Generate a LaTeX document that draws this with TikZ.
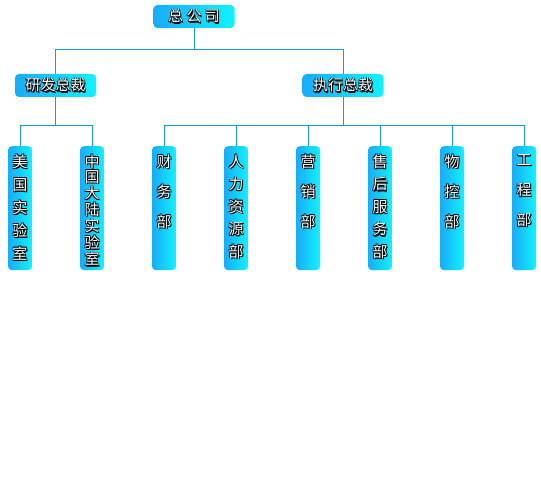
\documentclass[tikz,border=0pt]{standalone}
\usepackage{fontspec}
\usepackage{tikz}
\usetikzlibrary{positioning,calc}
\newfontfamily\cjk{Noto Sans CJK SC}
\definecolor{BoxL}{HTML}{18ACF6}
\definecolor{BoxR}{HTML}{12F2FF}
\definecolor{Wire}{HTML}{1497EE}
% white text with a dark outline and shadow
\newcommand\shcopy[3]{\makebox[0pt][l]{\hspace{#1}\raisebox{#2}{\color{black}#3}}}
\newcommand\sh[1]{\shcopy{1.1pt}{-1.1pt}{#1}\shcopy{0.6pt}{0.6pt}{#1}\shcopy{-0.6pt}{-0.6pt}{#1}\shcopy{-0.6pt}{0.6pt}{#1}\shcopy{0.6pt}{-0.6pt}{#1}#1}
% vertical stack of characters, first arg is the line pitch
\newcommand\vstack[2]{\parbox[t][112pt][t]{22pt}{\centering\fontsize{15pt}{#1pt}\selectfont\vspace*{2pt}#2}}
\tikzset{
  every node/.append style={text=white, font=\cjk},
  hbox/.style={rounded corners=4pt, left color=BoxL, right color=BoxR,
               minimum width=81pt, minimum height=23pt, inner sep=0pt,
               font=\cjk\fontsize{15pt}{16pt}\selectfont},
  vbox/.style={rounded corners=4pt, left color=BoxL, right color=BoxR,
               minimum width=24pt, minimum height=124pt, anchor=north,
               inner xsep=1pt, inner ysep=6pt},
  link/.style={draw=Wire, line width=1pt},
}

\begin{document}
\begin{tikzpicture}[x=1pt, y=-1pt]
  \useasboundingbox[fill=white] (0,0) rectangle (541,486);
  \node[hbox] (hq) at (194,16.5) {\sh{总 公 司}};
  \node[hbox] (rd) at (55.5,85.5) {\sh{研发总裁}};
  \node[hbox] (ex) at (343,85.5) {\sh{执行总裁}};

  \node[vbox] (us) at (20,146) {\vstack{23}{\sh{美}\\\sh{国}\\\sh{实}\\\sh{验}\\\sh{室}}};
  \node[vbox] (cn) at (92,146) {\vstack{15}{\sh{中}\\\sh{国}\\\sh{大}\\\sh{陆}\\\sh{实}\\\sh{验}\\\sh{室}}};

  \node[vbox] (fin) at (164,146) {\vstack{30}{\sh{财}\\\sh{务}\\\sh{部}}};
  \node[vbox] (hr) at (236,146) {\vstack{22.5}{\sh{人}\\\sh{力}\\\sh{资}\\\sh{源}\\\sh{部}}};
  \node[vbox] (mk) at (308,146) {\vstack{30}{\sh{营}\\\sh{销}\\\sh{部}}};
  \node[vbox] (svc) at (380,146) {\vstack{22.5}{\sh{售}\\\sh{后}\\\sh{服}\\\sh{务}\\\sh{部}}};
  \node[vbox] (mat) at (452,146) {\vstack{30}{\sh{物}\\\sh{控}\\\sh{部}}};
  \node[vbox] (eng) at (524,146) {\vstack{30}{\sh{工}\\\sh{程}\\\sh{部}}};

  % upper bus
  \draw[link] (hq.south) -- ++(0,21.5) coordinate (b0);
  \draw[link] (b0) -| (rd.north);
  \draw[link] (b0) -| (ex.north);
  % research bus
  \draw[link] (rd.south) -- ++(0,28) coordinate (b1);
  \draw[link] (b1) -| (us.north);
  \draw[link] (b1) -| (cn.north);
  % operations bus
  \draw[link] (ex.south) -- ++(0,28) coordinate (b2);
  \draw[link] (b2) -| (fin.north);
  \draw[link] (b2) -| (hr.north);
  \draw[link] (b2) -| (mk.north);
  \draw[link] (b2) -| (svc.north);
  \draw[link] (b2) -| (mat.north);
  \draw[link] (b2) -| (eng.north);
\end{tikzpicture}
\end{document}
